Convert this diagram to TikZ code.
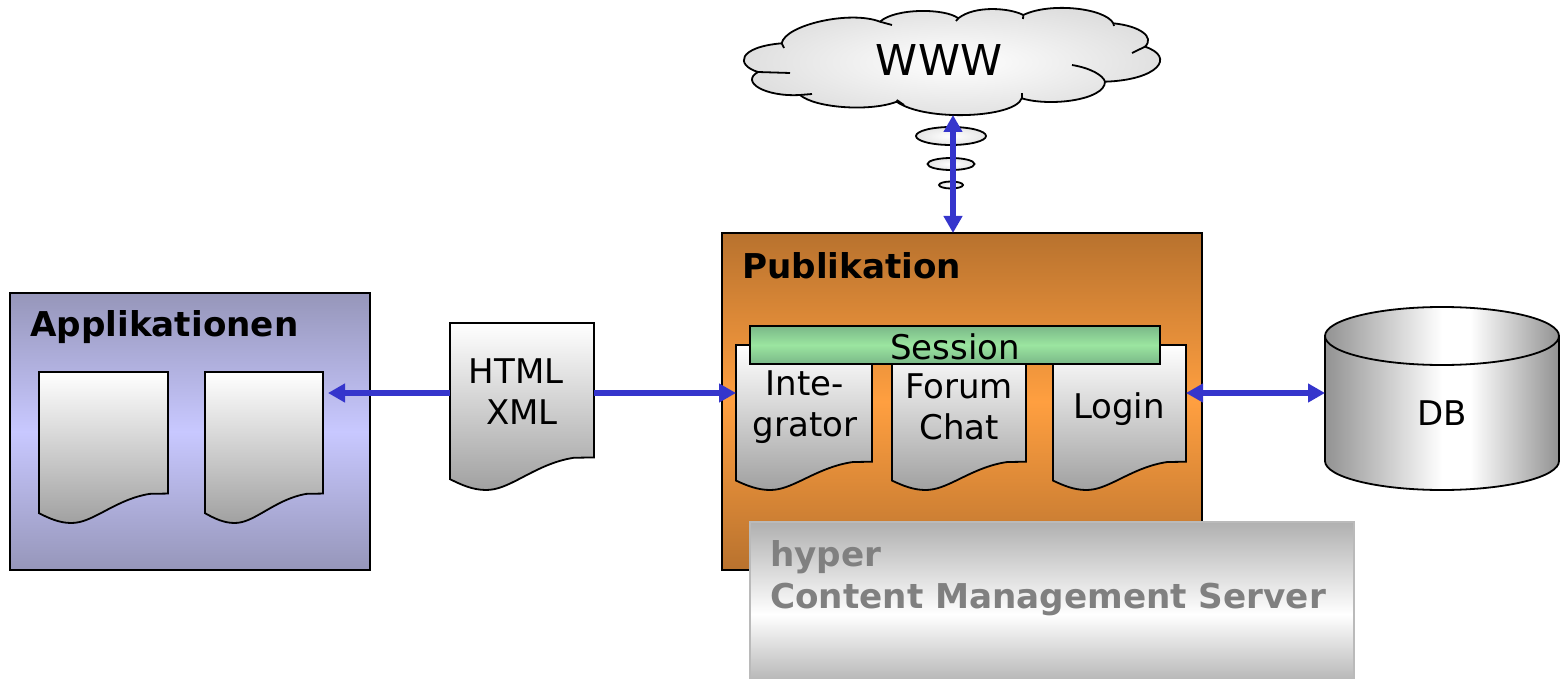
\documentclass[tikz,border=0pt]{standalone}
\usepackage{fontspec}
\setmainfont{DejaVu Sans}
\usetikzlibrary{arrows.meta,shapes.geometric}

\definecolor{flowblue}{RGB}{53,53,204}
\definecolor{appsouter}{RGB}{150,150,186}
\definecolor{appsinner}{RGB}{200,200,255}
\definecolor{puborange}{RGB}{184,114,46}
\definecolor{pubinner}{RGB}{255,159,64}
\definecolor{sessionouter}{RGB}{122,184,136}
\definecolor{sessioninner}{RGB}{155,229,160}
\definecolor{hypergrey}{RGB}{176,176,176}
\definecolor{hypertext}{RGB}{128,128,128}
\definecolor{cylgrey}{RGB}{146,146,146}

\pgfdeclareverticalshading{hypershade}{100bp}{color(0bp)=(hypergrey); color(25bp)=(hypergrey); color(47bp)=(white); color(75bp)=(hypergrey); color(100bp)=(hypergrey)}
\pgfdeclarehorizontalshading{cylshade}{100bp}{color(0bp)=(cylgrey); color(25bp)=(cylgrey); color(50bp)=(white); color(56bp)=(white); color(75bp)=(cylgrey); color(100bp)=(cylgrey)}

\tikzset{
    outline/.style={draw=black, line width=1.8pt},
    plate/.style={outline, anchor=north west, outer sep=0pt, inner sep=0pt},
    label/.style={font=\fontsize{34}{41}\selectfont, align=center, inner sep=0pt},
    title/.style={font=\fontsize{34.2}{42}\bfseries\selectfont, align=left, inner sep=0pt, anchor=west},
    docfill/.style={outline, top color=white, bottom color=black!37},
    bubble/.style={outline, ellipse, inner sep=0pt, inner color=white, outer color=black!10},
    flow/.style={draw=flowblue, line width=6pt, {Triangle[length=17pt,width=18pt]}-{Triangle[length=17pt,width=18pt]}},
    flowto/.style={draw=flowblue, line width=6pt, -{Triangle[length=17pt,width=18pt]}}
}

% name, left, top, width, height
\newcommand{\docshape}[5]{
    \begin{scope}[shift={(#2,#3)}, x=#4pt, y=-#5pt]
        \draw [docfill] (0,0) -- (1,0) -- (1,0.805) -- (0.86,0.807) .. controls (0.72,0.825) and (0.60,0.88) .. (0.49,0.93) .. controls (0.40,0.97) and (0.33,1) .. (0.25,1) .. controls (0.16,1) and (0.08,0.97) .. (0,0.935) -- cycle;
    \end{scope}
    \node (#1) [anchor=north west, inner sep=0pt, outer sep=0pt, minimum width=#4pt, minimum height=#5pt] at (#2,#3) {};
}

\begin{document}
\begin{tikzpicture}[x=1pt, y=-1pt]

    \useasboundingbox (0,0) rectangle (1561,679);

    % left box
    \node (apps) [plate, minimum width=360pt, minimum height=277pt, top color=appsouter, bottom color=appsouter, middle color=appsinner] at (10,293) {};
    \node (appstitle) [title] at (30,327) {Applikationen};
    \docshape{appdoca}{39}{372}{129}{151}
    \docshape{appdocb}{205}{372}{118}{151}

    % exchange document
    \docshape{exchange}{450}{323}{144}{167}
    \node (exchangetext) [label] at (522,392) {HTML\hspace*{12pt}\\XML};

    % publication box
    \node (publikation) [plate, minimum width=480pt, minimum height=337pt, top color=puborange, bottom color=puborange, middle color=pubinner] at (722,233) {};
    \node (pubtitle) [title] at (742,266) {Publikation};
    \docshape{integrator}{736}{345}{136}{145}
    \docshape{forum}{892}{345}{134}{145}
    \docshape{login}{1053}{345}{133}{145}
    \node (integratortext) [label] at (805,407) {Inte-\\grator};
    \node (forumtext) [label] at (959,407) {Forum\\Chat};
    \node (logintext) [label] at (1119,409) {Login};
    \node (session) [plate, minimum width=410pt, minimum height=38pt, top color=sessionouter, bottom color=sessionouter, middle color=sessioninner] at (750,326) {};
    \node (sessiontext) [label] at (955,347) {Session};

    % server box
    \node (hyperbox) [plate, draw=black!27, minimum width=604pt, minimum height=165pt, shading=hypershade] at (750,522) {};
    \node (hypertitle) [title, text=hypertext] at (770,578) {hyper\\Content Management Server};

    % database
    \draw [outline, shading=cylshade] (1325,336) -- (1325,461) arc [start angle=180, end angle=360, x radius=117, y radius=-29] -- (1559,336) -- cycle;
    \draw [outline, shading=cylshade] (1442,336) ellipse [x radius=117, y radius=29];
    \node (db) [anchor=west, minimum width=234pt, minimum height=183pt, inner sep=0pt, outer sep=0pt] at (1325,398.5) {};
    \node (dbtext) [label] at (1442,413) {DB};

    % cloud
    \draw [outline, inner color=white, outer color=black!13]
        (781.7,43.3) .. controls (785,25) and (850,10) .. (880,21.7)
        .. controls (895,8) and (945,8) .. (958.3,18.3)
        .. controls (975,5) and (1010,8) .. (1023.3,15)
        .. controls (1050,2) and (1105,8) .. (1113.3,23.3)
        .. controls (1140,26) and (1155,37) .. (1145,46.7)
        .. controls (1176,57) and (1158,80) .. (1105,81.7)
        .. controls (1105,100) and (1050,107) .. (1021.7,98.3)
        .. controls (1015,118) and (925,122) .. (896.7,101.7)
        .. controls (870,112) and (815,108) .. (800,95)
        .. controls (765,97) and (740,82) .. (758,72)
        .. controls (735,65) and (738,47) .. (781.7,43.3) -- cycle;
    \draw [outline] (781.7,43.3) -- (784,48);
    \draw [outline] (880,21.7) -- (892,25);
    \draw [outline] (958.3,18.3) -- (956,21);
    \draw [outline] (1023.3,15) -- (1023,19);
    \draw [outline] (1113.3,23.3) -- (1114,26);
    \draw [outline] (1145,46.7) -- (1132,53);
    \draw [outline] (1072,65) .. controls (1090,68) and (1103,75) .. (1105,81.7);
    \draw [outline] (1021.7,93) -- (1021.7,98.3);
    \draw [outline] (896.7,100) -- (904,105);
    \draw [outline] (800,95) -- (812,94);
    \draw [outline] (758,72) -- (790,73);
    \node (www) [font=\fontsize{42.5}{50}\selectfont, inner sep=0pt] at (939,60) {WWW};
    \coordinate (cloudbottom) at (953,115);

    \node (bubblea) [bubble, minimum width=70pt, minimum height=18pt] at (951,136) {};
    \node (bubbleb) [bubble, minimum width=47pt, minimum height=12pt] at (951,164) {};
    \node (bubblec) [bubble, minimum width=24pt, minimum height=7pt] at (951,185) {};

    % connectors
    \coordinate (flowline) at (0,393);
    \draw [flowto, shorten >=5pt] (exchange.west |- flowline) -- (appdocb.east |- flowline);
    \draw [flowto] (exchange.east |- flowline) -- (integrator.west |- flowline);
    \draw [flow] (login.east |- flowline) -- (db.west |- flowline);
    \draw [flow] (cloudbottom) -- (publikation.north -| cloudbottom);

\end{tikzpicture}
\end{document}
